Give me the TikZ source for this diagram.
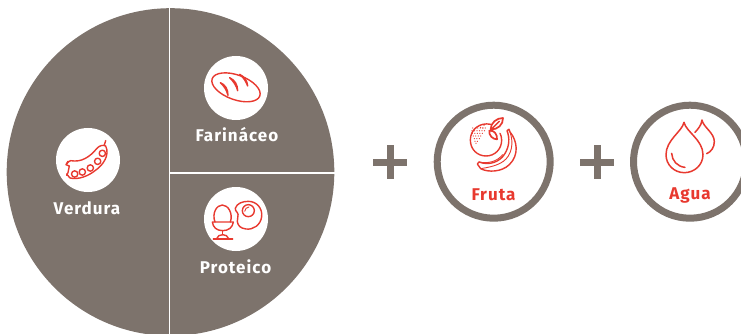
\documentclass[tikz,border=0pt]{standalone}
\usepackage{fontspec}
\setmainfont{Fira Sans}[LetterSpace=6]
\definecolor{taupe}{HTML}{7D736C}
\definecolor{fire}{HTML}{E8392F}
\tikzset{
  disc/.style={fill=white,draw=none},
  ico/.style={draw=fire,line width=1.4pt,line join=round,line cap=round,fill=none},
  icothin/.style={draw=fire,line width=.9pt,line cap=round,fill=none},
  wlabel/.style={text=white,font=\fontsize{17}{18}\selectfont\bfseries,inner sep=0pt},
  rlabel/.style={text=fire,font=\fontsize{17}{18}\selectfont\bfseries,inner sep=0pt},
  ring/.style={draw=taupe,line width=7pt,fill=white},
  sep/.style={draw=white,line width=1.6pt},
  plusbar/.style={draw=taupe,line width=7pt},
  zoomA/.style={shift={(40,40)},scale=1/3},
  zoomB/.style={shift={(360,90)},scale=1/3},
}
\begin{document}
\begin{tikzpicture}[x=1pt,y=-1pt]
\useasboundingbox (0,0) rectangle (741,334);
\clip (0,0) rectangle (741,334);
% plate
\fill[taupe] (170.5,172) circle (163.8);
\draw[sep] (169.5,8) -- (169.5,336);
\draw[sep] (169.5,172.7) -- (335,172.7);
\fill[disc] (88,160) circle (32);
\fill[disc] (236,88) circle (32);
\fill[disc] (236,219) circle (32);
\node[wlabel] (verdura) at (87,208.5) {Verdura};
\node[wlabel] (farinaceo) at (237,134.5) {Farináceo};
\node[wlabel] (proteico) at (235.5,266.5) {Proteico};
% pea pod
\begin{scope}[zoomA]
\draw[ico] (80,372) .. controls (84,368) and (86,362) .. (92,362) .. controls (125,368) and (150,350) .. (170,326) .. controls (178,316) and (190,314) .. (197,318) .. controls (210,345) and (190,375) .. (165,392) .. controls (145,408) and (115,420) .. (90,414) .. controls (84,410) and (84,404) .. (80,402);
\draw[ico] (84,364) -- (78,374) -- (88,378) -- (84,398) -- (80,406);
\draw[ico] (193,315) -- (197,302);
\foreach \cx/\cy in {104/402,127/396,151/384,173/364,187/340}
  \draw[ico] (\cx,\cy) circle (9.5);
% bread
\draw[ico,rotate around={-20:(588,142)}] (588,142) ellipse (76 and 37);
\draw[ico,fill=fire] (541,128) .. controls (556,134) and (564,148) .. (564,166) .. controls (560,150) and (552,138) .. (541,128) -- cycle;
\draw[ico,fill=fire] (569,113) .. controls (584,120) and (593,134) .. (593,152) .. controls (589,136) and (580,124) .. (569,113) -- cycle;
\draw[ico,fill=fire] (599,103) .. controls (613,110) and (622,122) .. (623,138) .. controls (618,124) and (610,112) .. (599,103) -- cycle;
% egg in cup
\draw[ico] (525,546) .. controls (515,520) and (530,495) .. (547,495) .. controls (564,495) and (580,520) .. (571,546);
\draw[ico] (517,546) -- (580,546) .. controls (578,562) and (566,572) .. (548,572) .. controls (530,572) and (519,562) .. (517,546);
\draw[ico] (548,572) -- (548,584);
\draw[ico] (530,596) .. controls (532,588) and (540,584) .. (548,584) .. controls (556,584) and (564,588) .. (566,596);
\draw[ico] (520,597) -- (578,597);
% fried egg
\draw[ico] (586,505) .. controls (590,490) and (608,484) .. (625,484) .. controls (650,484) and (668,505) .. (665,530) .. controls (662,555) and (640,570) .. (618,567) .. controls (600,565) and (594,556) .. (592,545) .. controls (590,535) and (598,525) .. (592,518) .. controls (588,513) and (585,510) .. (586,505);
\draw[ico] (625,512) circle (18);
\draw[icothin] (614,514) .. controls (615,506) and (620,502) .. (627,501);
\end{scope}
% side dishes
\draw[ring] (493.7,161.7) circle (56.5);
\draw[ring] (690,161.7) circle (56.5);
\draw[plusbar] (373,162) -- (407,162);
\draw[plusbar] (390,145) -- (390,179);
\draw[plusbar] (580,162) -- (614,162);
\draw[plusbar] (597,145) -- (597,179);
\node[rlabel] (fruta) at (493.5,194.5) {Fruta};
\node[rlabel] (agua) at (690,195.5) {Agua};
\begin{scope}[zoomB]
% orange
\draw[ico] (392,103) .. controls (360,96) and (331,118) .. (331,150) .. controls (331,178) and (352,198) .. (378,198) .. controls (404,198) and (425,178) .. (425,150) .. controls (425,142) and (423,136) .. (420,130);
\foreach \rx/\ry/\n in {338/114/4,336/122/5,337/130/4,340/138/3,343/146/2}
  \foreach \i in {0,...,\n}
    \fill[fire] ({\rx+\i*7.5},\ry) circle (1.9);
\foreach \rx/\ry in {372/106,362/112,369/114,376/114,345/154,352/154,348/160}
  \fill[fire] (\rx,\ry) circle (1.9);
% leaves
\draw[ico,line width=1.7pt] (392,118) .. controls (392,98) and (410,84) .. (429,84) .. controls (430,104) and (412,120) .. (392,118);
\draw[ico] (396,116) -- (418,94);
\draw[ico,line width=1.7pt] (388,122) .. controls (404,120) and (412,134) .. (411,148) .. controls (398,148) and (386,136) .. (388,122);
% banana
\draw[ico] (441,122) -- (447,118) -- (450,126) .. controls (472,152) and (478,195) .. (448,224) .. controls (425,246) and (385,248) .. (362,236) -- (352,222) -- (357,216) .. controls (388,228) and (420,215) .. (434,192) .. controls (448,170) and (450,145) .. (441,122);
\draw[icothin] (450,126) .. controls (462,160) and (455,196) .. (430,214) .. controls (410,228) and (385,232) .. (362,236);
\draw[icothin] (357,216) .. controls (385,222) and (412,214) .. (428,194);
% large drop
\draw[ico,line width=1.5pt] (972,97) .. controls (978,125) and (1029,150) .. (1029,194) .. controls (1029,225) and (1003,248) .. (973,248) .. controls (943,248) and (918,225) .. (918,194) .. controls (918,150) and (966,125) .. (972,97) -- cycle;
\draw[ico,line width=1.5pt] (935,190) .. controls (936,212) and (952,230) .. (975,232);
% small drop
\draw[ico,line width=1.5pt] (1005,127) .. controls (1015,116) and (1024,106) .. (1026,90) .. controls (1030,112) and (1063,128) .. (1063,155) .. controls (1063,172) and (1053,186) .. (1040,191);
\end{scope}
\end{tikzpicture}
\end{document}
